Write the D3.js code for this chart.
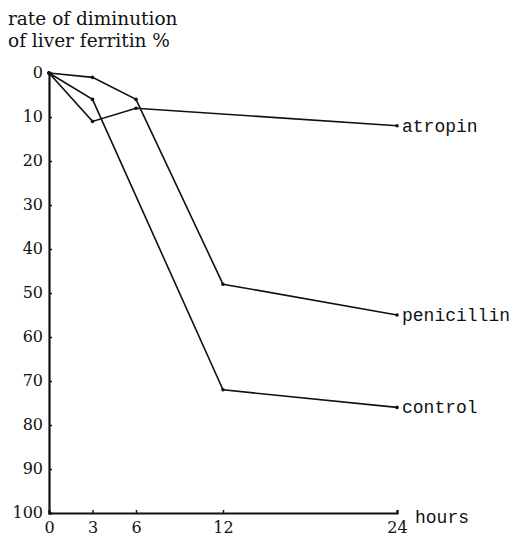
<!DOCTYPE html>
<html>
<head>
<meta charset="utf-8">
<script src="https://cdn.jsdelivr.net/npm/d3@7"></script>
<style>
  body { margin: 0; background: #fff; }
</style>
</head>
<body>
<script>
// hours after treatment
const xTicks = [0, 3, 6, 12, 24]
const yTicks = [0, 10, 20, 30, 40, 50, 60, 70, 80, 90, 100]

// rate of diminution of liver ferritin (%)
const atropinHours = [0, 3, 6, 24]
const atropin = [0, 11, 8, 12]
const penicillinHours = [0, 3, 6, 12, 24]
const penicillin = [0, 1, 6, 48, 55]
const controlHours = [0, 3, 12, 24]
const control = [0, 6, 72, 76]

const titleLines = ['rate of diminution', 'of liver ferritin %']

const series = [
  { name: 'atropin', xs: atropinHours, ys: atropin },
  { name: 'penicillin', xs: penicillinHours, ys: penicillin },
  { name: 'control', xs: controlHours, ys: control }
]

const w = 520
const h = 539

const serif = 'DejaVu Serif, Liberation Serif, serif'
const mono = 'Liberation Mono, DejaVu Sans Mono, monospace'

const x = d3.scaleLinear().domain([0, 24]).range([49, 397])
const y = d3.scaleLinear().domain([0, 100]).range([73, 513])

const svg = d3.select('body')
  .append('svg')
  .attr('width', w)
  .attr('height', h)

// title, two lines
svg.selectAll('.title')
  .data(titleLines)
  .enter()
  .append('text')
  .attr('class', 'title')
  .attr('x', 8)
  .attr('y', (d, i) => 25 + i * 22)
  .attr('font-family', serif)
  .attr('font-size', 18.5)
  .attr('fill', '#111')
  .text(d => d)

// y axis
const yAxis = svg.append('g')
  .attr('transform', `translate(${x(0)},0)`)
  .call(d3.axisLeft(y).tickValues(yTicks).tickSize(-3).tickPadding(6).tickFormat(d => d))
yAxis.select('.domain').attr('stroke-width', 2.2).attr('stroke', '#111')
yAxis.selectAll('.tick line').attr('stroke', '#111').attr('stroke-width', 1.5)
yAxis.selectAll('.tick text')
  .attr('font-family', serif)
  .attr('font-size', 16)
  .attr('fill', '#111')
  .attr('dy', '0.3em')

// x axis
const xAxis = svg.append('g')
  .attr('transform', `translate(0,${y(100)})`)
  .call(d3.axisBottom(x).tickValues(xTicks).tickSize(-3).tickPadding(9).tickFormat(d => d))
xAxis.select('.domain').attr('stroke-width', 2.2).attr('stroke', '#111')
xAxis.selectAll('.tick line').attr('stroke', '#111').attr('stroke-width', 1.5)
xAxis.selectAll('.tick text')
  .attr('font-family', serif)
  .attr('font-size', 16)
  .attr('fill', '#111')

svg.append('text')
  .attr('x', 415)
  .attr('y', 523)
  .attr('font-family', mono)
  .attr('font-size', 18)
  .attr('fill', '#111')
  .text('hours')

// lines
const line = d3.line()
  .x(d => x(d[0]))
  .y(d => y(d[1]))

series.forEach(s => {
  const pts = s.xs.map((v, i) => [v, s.ys[i]])
  svg.append('path')
    .datum(pts)
    .attr('d', line)
    .attr('fill', 'none')
    .attr('stroke', '#111')
    .attr('stroke-width', 1.6)

  svg.selectAll(null)
    .data(pts)
    .enter()
    .append('circle')
    .attr('cx', d => x(d[0]))
    .attr('cy', d => y(d[1]))
    .attr('r', 1.8)
    .attr('fill', '#111')

  const last = pts[pts.length - 1]
  svg.append('text')
    .attr('x', x(last[0]) + 5)
    .attr('y', y(last[1]))
    .attr('dy', '0.32em')
    .attr('font-family', mono)
    .attr('font-size', 18)
    .attr('fill', '#111')
    .text(s.name)
})
</script>
</body>
</html>
